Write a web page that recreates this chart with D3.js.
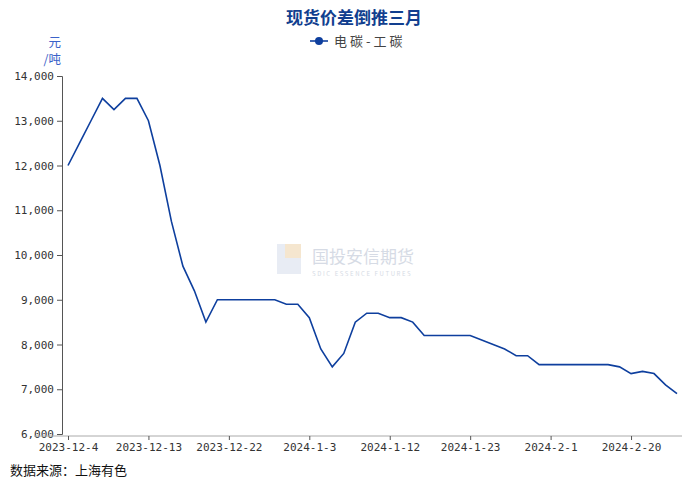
<!DOCTYPE html>
<html><head><meta charset="utf-8">
<script src="https://cdn.jsdelivr.net/npm/d3@7"></script>
<style>body{margin:0;background:#fff}text{font-family:"Noto Sans CJK SC","DejaVu Sans",sans-serif}.mono text{font-family:"DejaVu Sans Mono",monospace}</style>
</head><body><svg id="c" width="700" height="484"></svg>
<script>
// trading days, 2023-12-4 .. 2024-2-26
var dates = ["2023-12-4","2023-12-5","2023-12-6","2023-12-7","2023-12-8","2023-12-11","2023-12-12","2023-12-13","2023-12-14","2023-12-15",
  "2023-12-18","2023-12-19","2023-12-20","2023-12-21","2023-12-22","2023-12-25","2023-12-26","2023-12-27","2023-12-28","2023-12-29",
  "2024-1-2","2024-1-3","2024-1-4","2024-1-5","2024-1-8","2024-1-9","2024-1-10","2024-1-11","2024-1-12","2024-1-15",
  "2024-1-16","2024-1-17","2024-1-18","2024-1-19","2024-1-22","2024-1-23","2024-1-24","2024-1-25","2024-1-26","2024-1-29",
  "2024-1-30","2024-1-31","2024-2-1","2024-2-2","2024-2-5","2024-2-6","2024-2-7","2024-2-8","2024-2-19","2024-2-20",
  "2024-2-21","2024-2-22","2024-2-23","2024-2-26"];
var spread = [12000,12500,13000,13500,13250,13500,13500,13000,12000,10750,
  9750,9200,8500,9000,9000,9000,9000,9000,9000,8900,
  8900,8600,7900,7500,7800,8500,8700,8700,8600,8600,
  8500,8200,8200,8200,8200,8200,8100,8000,7900,7750,
  7750,7550,7550,7550,7550,7550,7550,7550,7500,7350,
  7400,7350,7100,6900];
var tickDates = ["2023-12-4","2023-12-13","2023-12-22","2024-1-3","2024-1-12","2024-1-23","2024-2-1","2024-2-20"];
var yTicks = [6000,7000,8000,9000,10000,11000,12000,13000,14000];

var svg = d3.select("#c");
var x = d3.scalePoint().domain(dates).range([68, 677]);
var y = d3.scaleLinear().domain([6000, 14000]).range([434, 76]);
var fmt = d3.format(",");

// watermark
svg.append("rect").attr("x",277).attr("y",244).attr("width",24).attr("height",30).attr("fill","#e8ecf4");
svg.append("rect").attr("x",285).attr("y",244).attr("width",16).attr("height",14).attr("fill","#f5e6cf");
svg.append("text").attr("x",312).attr("y",263).attr("font-size",17).attr("fill","#d6dbe5").text("国投安信期货");
svg.append("text").attr("x",312).attr("y",276).attr("font-size",6).attr("fill","#d6dbe5").attr("letter-spacing",1.6).text("SDIC ESSENCE FUTURES");

var ya = svg.append("g").attr("class","mono").attr("transform","translate(62,0)")
  .call(d3.axisLeft(y).tickValues(yTicks).tickFormat(fmt).tickSize(5));
ya.selectAll("text").attr("font-size",11).attr("fill","#333");
ya.selectAll("line,path").attr("stroke","#555");

var xa = svg.append("g").attr("class","mono").attr("transform","translate(0,436)")
  .call(d3.axisBottom(x).tickValues(tickDates).tickSize(4).tickSizeOuter(0));
xa.select("path").attr("d","M34,0H682").attr("stroke","#aaa");
xa.selectAll("line").attr("stroke","#555");
xa.selectAll("text").attr("font-size",11).attr("fill","#333");

svg.append("path").datum(spread)
  .attr("fill","none").attr("stroke","#0e3f9e").attr("stroke-width",1.6)
  .attr("d", d3.line().x(function(d,i){return x(dates[i]);}).y(function(d){return y(d);}));

svg.append("text").attr("x",354).attr("y",24).attr("text-anchor","middle")
  .attr("font-size",17).attr("font-weight","bold").attr("fill","#123f8f").text("现货价差倒推三月");
svg.append("line").attr("x1",310).attr("x2",328).attr("y1",41).attr("y2",41).attr("stroke","#0e3f9e").attr("stroke-width",1.6);
svg.append("circle").attr("cx",319).attr("cy",41).attr("r",4).attr("fill","#0e3f9e");
svg.append("text").attr("x",334).attr("y",46).attr("font-size",13).attr("fill","#444").attr("letter-spacing",3).text("电碳-工碳");

svg.append("text").attr("x",61).attr("y",47).attr("text-anchor","end").attr("font-size",12.5).attr("fill","#3b62c9").text("元");
svg.append("text").attr("x",61).attr("y",64).attr("text-anchor","end").attr("font-size",12.5).attr("fill","#3b62c9").text("/吨");
svg.append("text").attr("x",10).attr("y",475).attr("font-size",13).attr("fill","#111").text("数据来源：上海有色");
</script></body></html>
